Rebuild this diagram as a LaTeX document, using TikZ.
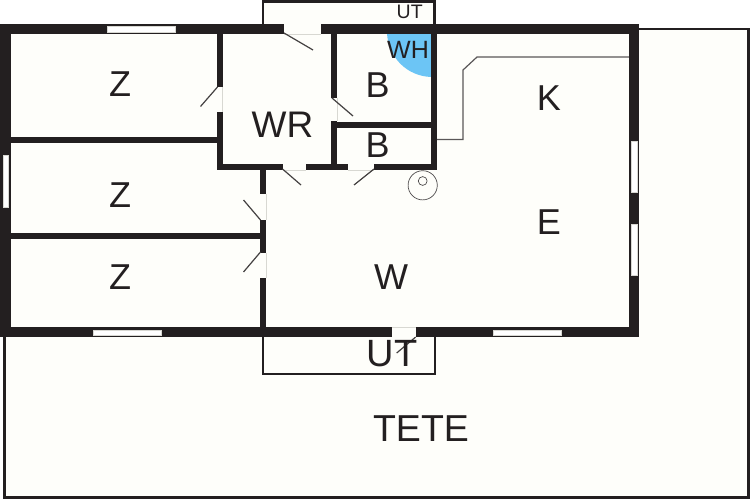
\documentclass[tikz,border=0pt]{standalone}
\usepackage{fontspec}
\setmainfont{Liberation Sans}
\definecolor{wallc}{HTML}{231F20}
\definecolor{floorc}{HTML}{FEFEFA}
\definecolor{bluec}{HTML}{6CC5F5}
\definecolor{gapc}{HTML}{D8D8D2}
\tikzset{
  wall/.style={fill=wallc,draw=none},
  thinwall/.style={draw=wallc,line width=2.2pt,line cap=butt},
  windowpane/.style={fill=white,draw=gapc,line width=.4pt},
  doorleaf/.style={draw=wallc!85,line width=1.2pt,line cap=butt},
  fixture/.style={draw=wallc!80,line width=.7pt},
  counter/.style={draw=wallc!75,line width=1.2pt,line join=miter},
  lbl/.style={inner sep=0pt,outer sep=0pt,text=wallc}
}
\begin{document}
\begin{tikzpicture}[x=1pt,y=-1pt]
\useasboundingbox (0,0) rectangle (750,500);
\fill[white] (0,0) rectangle (750,500);
% terrace
\path[fill=floorc] (0,337) -- (0,29) -- (748,29) -- (748,498) -- (4,498) -- (4,337) -- cycle;
\fill[white] (0,24) rectangle (3,500);
\draw[wallc,line width=2.6pt] (639,29) -- (748.5,29) -- (748.5,497.5) -- (4.5,497.5) -- (4.5,337);
% porches
\fill[floorc] (263,2) rectangle (435,26);
\draw[thinwall] (263,26) -- (263,1.5) -- (434.5,1.5) -- (434.5,26);
\draw[thinwall] (263,336) -- (263,374) -- (435,374) -- (435,336);
% floor
\fill[floorc] (5,30) rectangle (634,332);
% worktop line
\draw[counter] (436,139.5) -- (463,139.5) -- (463,70) -- (477,57) -- (630,57);
% wet area
\fill[bluec] (431,34) -- (387,34) .. controls (389,58) and (407,76) .. (431,77) -- cycle;
% outer walls
\fill[wall] (0,24) rectangle (639,34);
\fill[wall] (0,327) rectangle (639,337);
\fill[wall] (0,24) rectangle (11,337);
\fill[wall] (629,24) rectangle (639,337);
% inner walls
\fill[wall] (11,137) rectangle (222,143);
\fill[wall] (11,233) rectangle (266,239);
\fill[wall] (217,34) rectangle (222.5,87);
\fill[wall] (217,112) rectangle (222.5,170);
\fill[wall] (217,164.5) rectangle (282.5,170);
\fill[wall] (306,164.5) rectangle (348,170);
\fill[wall] (374,164.5) rectangle (437,170);
\fill[wall] (331,34) rectangle (337,98);
\fill[wall] (331,121) rectangle (337,170);
\fill[wall] (337,122.5) rectangle (431,128.5);
\fill[wall] (431,34) rectangle (437,170);
\fill[wall] (260,170) rectangle (266,194);
\fill[wall] (260,220) rectangle (266,252.5);
\fill[wall] (260,277.5) rectangle (266,327);
% door openings
\fill[floorc] (284,24) rectangle (321,34);
\draw[gapc,line width=.6pt] (284,34) -- (321,34);
\fill[floorc] (391.7,327) rectangle (415.7,337);
\draw[gapc,line width=.6pt] (391.7,327) -- (415.7,327);
\draw[gapc,line width=.6pt] (222.5,87) -- (222.5,112);
\draw[gapc,line width=.6pt] (337,98) -- (337,121);
\draw[gapc,line width=.6pt] (282.5,170) -- (306,170) (348,170) -- (374,170);
\draw[gapc,line width=.6pt] (266,194) -- (266,220) (266,252.5) -- (266,277.5);
% door leaves
\draw[doorleaf] (284,33) -- (313,50);
\draw[doorleaf] (332,98) -- (353,116);
\draw[doorleaf] (217.5,87) -- (200.5,106.5);
\draw[doorleaf] (282.5,169) -- (301,185);
\draw[doorleaf] (374,169) -- (354,185);
\draw[doorleaf] (260.5,220) -- (243.5,200);
\draw[doorleaf] (260.5,252) -- (243.5,272);
\draw[doorleaf] (415.7,337) -- (396.7,353);
% windows
\draw[windowpane] (107.5,26.5) rectangle (175,32);
\draw[windowpane] (93,330) rectangle (160.7,335.5);
\draw[windowpane] (493,330) rectangle (560.7,335.5);
\draw[windowpane] (2.7,155) rectangle (8,206.7);
\draw[windowpane] (631,141.7) rectangle (637.3,192.7);
\draw[windowpane] (631,224) rectangle (637.3,275);
% stove
\draw[fixture] (422.7,185.3) circle[radius=14.6];
\draw[fixture] (422.7,181) circle[radius=4.4];
% labels
\node[lbl,font=\fontsize{36}{36}\selectfont] (z1) at (120,84.5) {Z};
\node[lbl,font=\fontsize{36}{36}\selectfont] (z2) at (120,195) {Z};
\node[lbl,font=\fontsize{36}{36}\selectfont] (z3) at (120,277.5) {Z};
\node[lbl,font=\fontsize{37}{37}\selectfont] (wr) at (282.5,125) {WR};
\node[lbl,font=\fontsize{36}{36}\selectfont] (b1) at (377.7,85) {B};
\node[lbl,font=\fontsize{36}{36}\selectfont] (b2) at (377.7,145) {B};
\node[lbl,font=\fontsize{36}{36}\selectfont] (k) at (549,98) {K};
\node[lbl,font=\fontsize{36}{36}\selectfont] (e) at (549,222) {E};
\node[lbl,font=\fontsize{36}{36}\selectfont] (w) at (391,277) {W};
\node[lbl,font=\fontsize{38}{38}\selectfont] (ut2) at (392,354) {UT};
\node[lbl,font=\fontsize{37.5}{38}\selectfont] (tete) at (421,428.5) {TETE};
\node[lbl,font=\fontsize{25}{25}\selectfont] (wh) at (408,50) {WH};
\node[lbl,font=\fontsize{19.5}{20}\selectfont] (ut1) at (409.7,12) {UT};
\end{tikzpicture}
\end{document}
